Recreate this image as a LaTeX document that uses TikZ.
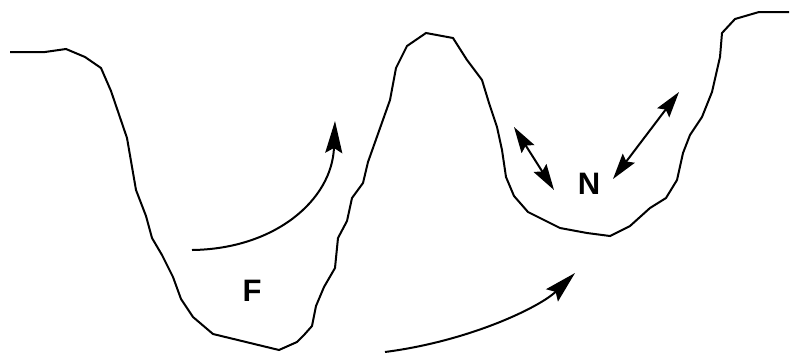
\documentclass[tikz,border=0pt]{standalone}
\usepackage{fontspec}
\setsansfont{Liberation Sans}
\usetikzlibrary{arrows.meta}
\tikzset{
    profile/.style={line width=2pt, black, line join=miter},
    flow/.style={line width=2pt, black, -{Stealth[length=32pt,width=17pt,inset=5pt]}},
    swap/.style={line width=2pt, black, {Stealth[length=26pt,width=15pt,inset=4pt]}-{Stealth[length=26pt,width=15pt,inset=4pt]}},
    tag/.style={font=\sffamily\bfseries\fontsize{31}{31}\selectfont, inner sep=0pt}
}
\begin{document}
\begin{tikzpicture}[x=1pt, y=-1pt]
                \useasboundingbox (0,0) rectangle (790,354);
                \coordinate (F1) at (192, 250);
                \coordinate (F2) at (335, 121);
                \coordinate (B1) at (385, 352);
                \coordinate (B2) at (575, 273);
                \coordinate (L1) at (514, 127);
                \coordinate (L2) at (554, 190);
                \coordinate (R1) at (679, 92);
                \coordinate (R2) at (613, 179);

                % the ground line
                \draw[profile] (10,52) -- (45,52) -- (66,49) -- (85,57) -- (101,68) -- (111,91)
                    -- (127,138) -- (136,190) -- (146,216) -- (152,238) -- (162,255) -- (173,277)
                    -- (181,299) -- (193,317) -- (213,334) -- (279,350) -- (297,342) -- (304,335)
                    -- (312,326) -- (316,306) -- (324,287) -- (335,268) -- (338,238) -- (347,221)
                    -- (352,198) -- (363,183) -- (368,162) -- (390,100) -- (396,68) -- (407,46)
                    -- (426,33) -- (453,38) -- (467,60) -- (482,80) -- (489,103) -- (497,127)
                    -- (502,150) -- (506,177) -- (514,196) -- (528,212) -- (560,228) -- (587,233)
                    -- (610,236) -- (630,226) -- (650,208) -- (666,198) -- (677,180) -- (683,153)
                    -- (690,135) -- (702,117) -- (712,92) -- (720,57) -- (722,33) -- (735,19)
                    -- (759,12) -- (789,12);

                \draw[flow] (F1) .. controls (275,249) and (332,200) .. (F2);
                \draw[flow] (B1) .. controls (470,341) and (540,307) .. (B2);
                \draw[swap] (L1) -- (L2);
                \draw[swap] (R1) -- (R2);

                \node[tag] (F) at (252, 291) {F};
                \node[tag] (N) at (589, 184) {N};
            \end{tikzpicture}
\end{document}
